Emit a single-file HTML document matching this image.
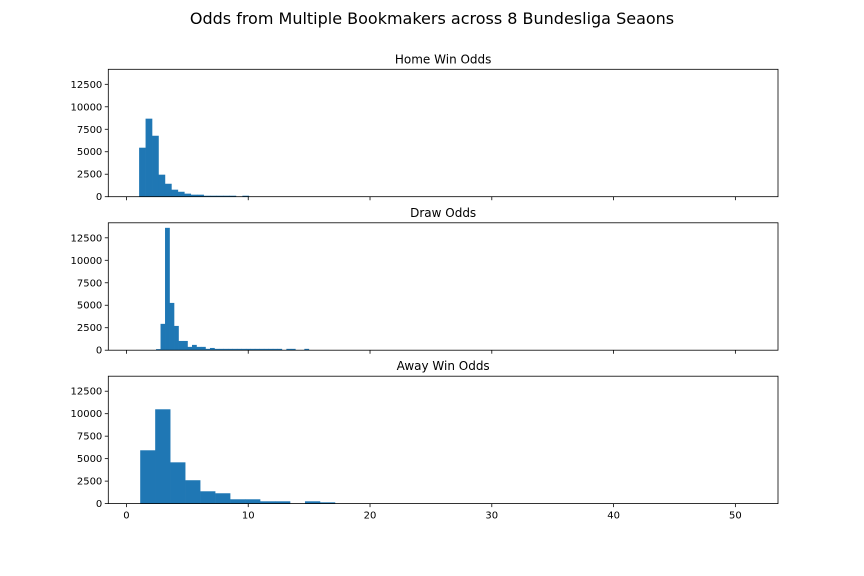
<!DOCTYPE html>
<html><head><meta charset="utf-8"><style>
body{margin:0;background:#fff}
svg{display:block;font-family:"DejaVu Sans","Liberation Sans",sans-serif}
</style></head><body>
<svg id="chart" width="864" height="576">
<text x="432" y="24" text-anchor="middle" font-size="16" fill="#000">Odds from Multiple Bookmakers across 8 Bundesliga Seaons</text>
</svg>
<script>
const homeStart = 1.04, homeWidth = 0.53;
const homeCounts = [5450,8680,6780,2450,1440,780,550,340,225,225,110,110,110,110,110,0,110];
const drawStart = 2.43, drawWidth = 0.369;
const drawCounts = [120,2930,13610,5260,2700,1030,1030,370,590,370,370,150,250,150,150,150,150,150,150,150,150,150,150,150,150,150,150,150,0,150,150,0,0,150];
const awayStart = 1.13, awayWidth = 1.23;
const awayCounts = [5930,10490,4590,2600,1370,1150,480,480,255,255,0,255,140];
const yTicks = [0,2500,5000,7500,10000,12500];
const xTicks = [0,10,20,30,40,50];
const titles = ["Home Win Odds","Draw Odds","Away Win Odds"];

const NS="http://www.w3.org/2000/svg";
const svg=document.getElementById('chart');
const L=108.3,R=778,H=127.4;
const tops=[69.3,222.8,376.2];
const xmin=-1.49,xmax=53.5,ymax=14170;
const sx=v=>L+(v-xmin)/(xmax-xmin)*(R-L);
function mk(tag,attrs,parent){const e=document.createElementNS(NS,tag);for(const k in attrs)e.setAttribute(k,attrs[k]);(parent||svg).appendChild(e);return e;}
const series=[[homeStart,homeWidth,homeCounts],[drawStart,drawWidth,drawCounts],[awayStart,awayWidth,awayCounts]];
series.forEach((s,i)=>{
  const top=tops[i],bot=top+H;
  const sy=v=>bot-v/ymax*H;
  const g=mk('g',{});
  
  
  const [st,w,counts]=s;
  counts.forEach((c,j)=>{
    if(c<=0)return;
    const x0=sx(st+j*w),x1=sx(st+(j+1)*w);
    const r=mk('rect',{x:x0,y:sy(c),width:x1-x0+0.3,height:bot-sy(c),fill:'#1f77b4'},g);
    
    
  });
  const fr=mk('rect',{x:L,y:top,width:R-L,height:H,fill:'none',stroke:'#000','stroke-width':0.8},g);
  
  
  const t=mk('text',{x:(L+R)/2,y:top-6,'text-anchor':'middle','font-size':12},g);
  t.textContent=titles[i];
  
  
  yTicks.forEach(v=>{
    const y=sy(v);
    mk('line',{x1:L-3.5,x2:L,y1:y,y2:y,stroke:'#000','stroke-width':0.8},g);
    const tl=mk('text',{x:L-6,y:y+3.5,'text-anchor':'end','font-size':10},g);
    tl.textContent=v;
    
    
  });
  xTicks.forEach(v=>{
    const x=sx(v);
    mk('line',{x1:x,x2:x,y1:bot,y2:bot+3.5,stroke:'#000','stroke-width':0.8},g);
    if(i===2){
      const tl=mk('text',{x:x,y:bot+15,'text-anchor':'middle','font-size':10},g);
      tl.textContent=v;
      
      
    }
  });
});
</script>
</body></html>
